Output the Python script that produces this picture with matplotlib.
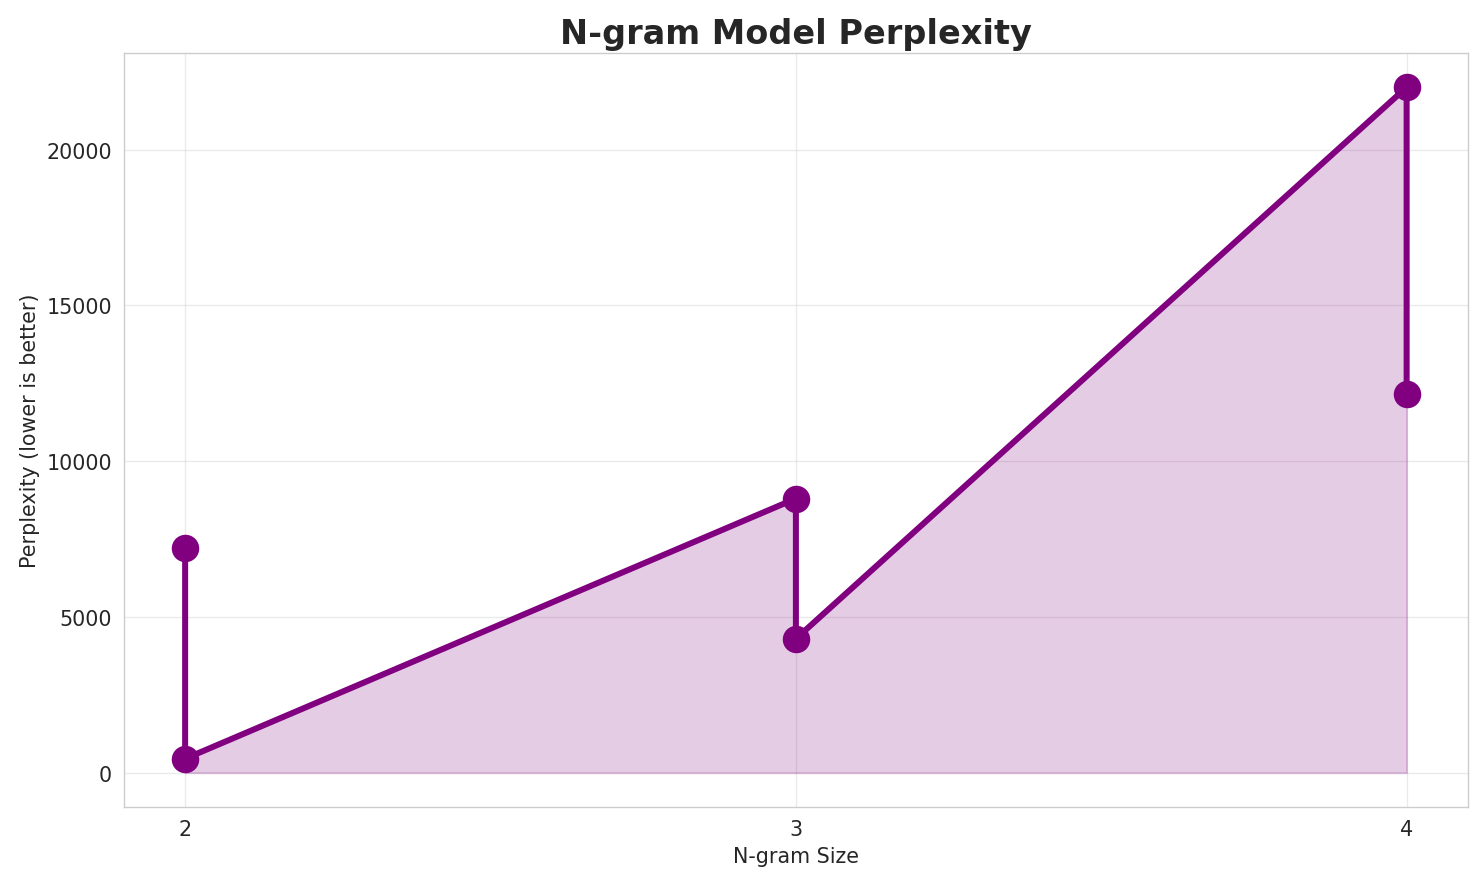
import numpy as np
import matplotlib.pyplot as plt
import seaborn as sns

# n-gram sizes and perplexity values
ngram_size = [2, 2, 3, 3, 4, 4]
perplexity = [7200, 450, 8800, 4300, 22000, 12150]

sns.set_style('whitegrid')
plt.rcParams['font.family'] = ['DejaVu Sans']

fig, ax = plt.subplots(figsize=(12, 7.156), dpi=123.67)
ax.plot(ngram_size, perplexity, color='purple', linewidth=3.5,
        marker='o', markersize=15)
ax.fill_between(ngram_size, perplexity, color='purple', alpha=0.2)

ax.set_title('N-gram Model Perplexity', fontsize=19.5, fontweight='bold')
ax.set_xlabel('N-gram Size', fontsize=12)
ax.set_ylabel('Perplexity (lower is better)', fontsize=12)
ax.set_xticks([2, 3, 4])
ax.tick_params(labelsize=12)
ax.grid(True, alpha=0.4)

fig.subplots_adjust(left=0.0836, right=0.989, top=0.939, bottom=0.087)
fig.savefig('out.png')
